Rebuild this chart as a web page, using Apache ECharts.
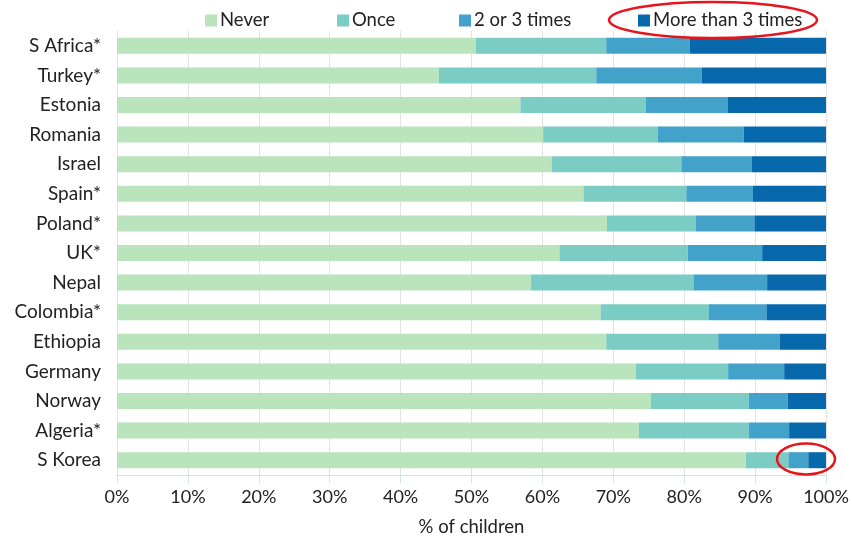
<!DOCTYPE html>
<html>
<head>
<meta charset="utf-8">
<script src="https://cdn.jsdelivr.net/npm/echarts@6/dist/echarts.min.js"></script>
<style>html,body{margin:0;padding:0;background:#fff}#c{width:853px;height:543px}</style>
</head>
<body>
<div id="c"></div>
<script>
const categories = ['S Africa*','Turkey*','Estonia','Romania','Israel','Spain*','Poland*','UK*','Nepal','Colombia*','Ethiopia','Germany','Norway','Algeria*','S Korea'];
const never    = [50.6, 45.4, 56.9, 60.1, 61.3, 65.8, 69.1, 62.4, 58.4, 68.2, 69.0, 73.2, 75.3, 73.6, 88.7];
const once     = [18.4, 22.2, 17.7, 16.2, 18.3, 14.5, 12.5, 18.1, 22.9, 15.3, 15.8, 13.0, 13.8, 15.5, 6.0];
const twoThree = [11.8, 14.9, 11.5, 12.1, 9.9, 9.4, 8.3, 10.5, 10.4, 8.1, 8.7, 7.9, 5.5, 5.7, 2.8];
const more     = [19.2, 17.5, 13.9, 11.6, 10.5, 10.3, 10.1, 9.0, 8.3, 8.4, 6.5, 5.9, 5.4, 5.2, 2.5];
const seriesNames = ['Never','Once','2 or 3 times','More than 3 times'];
const xTicks = [0,10,20,30,40,50,60,70,80,90,100];

const colors = ['#bae4bc','#7bccc4','#43a2ca','#0868ac'];
const font = 'Lato, "Open Sans", sans-serif';
const values = [never, once, twoThree, more];
const legendLefts = [200, 332, 454, 633];

const chart = echarts.init(document.getElementById('c'));
chart.setOption({
  animation: false,
  color: colors,
  grid: {left: 117, right: 27, top: 31, bottom: 68, containLabel: false, outerBoundsMode: 'none'},
  legend: seriesNames.map((n, i) => ({
    data: [n], left: legendLefts[i], top: 6, itemWidth: 12, itemHeight: 12, itemGap: 5,
    icon: 'rect', textStyle: {fontFamily: font, fontSize: 18.5, color: '#222', padding: [0,0,0,-2]}
  })),
  xAxis: {
    type: 'value', min: 0, max: 100, interval: 10,
    name: '% of children', nameLocation: 'middle', nameGap: 43,
    nameTextStyle: {fontFamily: font, fontSize: 18.5, color: '#222'},
    axisLabel: {formatter: v => xTicks.includes(v) ? v + '%' : '', fontFamily: font, fontSize: 18, color: '#222', margin: 13},
    axisLine: {show: true, lineStyle: {color: '#cfe5ea', width: 1}},
    axisTick: {show: true, length: 8, lineStyle: {color: '#cfe5ea'}},
    splitLine: {lineStyle: {color: '#e3e3e3'}}
  },
  yAxis: {
    type: 'category', data: categories, inverse: true,
    axisLabel: {fontFamily: font, fontSize: 19, color: '#222', margin: 16},
    axisLine: {show: true, lineStyle: {color: '#e3e3e3'}},
    axisTick: {show: false}
  },
  series: seriesNames.map((n, i) => ({
    name: n, type: 'bar', stack: 'total', data: values[i], barWidth: 16,
    itemStyle: {color: colors[i]}
  })),
  graphic: [
    {type: 'ellipse', shape: {cx: 713, cy: 20, rx: 104, ry: 18}, style: {fill: 'none', stroke: '#e8141c', lineWidth: 2.5}, z: 100},
    {type: 'ellipse', shape: {cx: 806, cy: 459, rx: 29, ry: 15.5}, style: {fill: 'none', stroke: '#e8141c', lineWidth: 2.5}, z: 100}
  ]
});
</script>
</body>
</html>
